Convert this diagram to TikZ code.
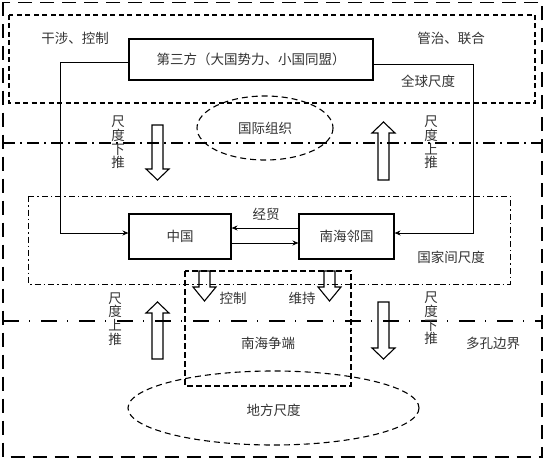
\documentclass[tikz,border=0pt]{standalone}
\usepackage{fontspec}
\newfontfamily\cjk{Noto Sans CJK SC}
\usetikzlibrary{arrows.meta,calc}
\begin{document}
\begin{tikzpicture}[x=1pt,y=-1pt,
  txt/.style={font=\cjk\fontsize{13.5}{13.7}\selectfont, text=black!80, inner sep=0pt, align=center},
  box/.style={draw, line width=1.1pt, inner sep=0pt, font=\cjk\fontsize{13.5}{14}\selectfont, text=black!80},
  conn/.style={line width=0.9pt, -{Stealth[length=6pt,width=5pt]}},
  harr/.style={draw, line width=1.1pt, line join=miter},
  outerframe/.style={line width=1.2pt, dash pattern=on 14pt off 8pt},
  globalframe/.style={line width=1.1pt, dash pattern=on 5pt off 3.5pt},
  scaleline/.style={line width=1.1pt, dash pattern=on 12pt off 5pt on 2pt off 5pt},
  interframe/.style={line width=1pt, dash pattern=on 6pt off 3pt on 1.5pt off 3pt},
  disputeframe/.style={line width=1.1pt, dash pattern=on 6pt off 3pt},
  porousline/.style={line width=1.1pt, dash pattern=on 16pt off 10pt on 1pt off 11pt},
  ovaldash/.style={line width=1.1pt, dash pattern=on 6pt off 4pt}]
\useasboundingbox (0,0) rectangle (546,460);
\newcommand\hollowarr[4]{%
  \draw[harr] (#1-5.5,#2) -- (#1-5.5,#3) -- (#1-11.5,#3) -- (#1,#4) -- (#1+11.5,#3) -- (#1+5.5,#3) -- (#1+5.5,#2) -- cycle;}

% frames and scale lines
\draw[outerframe] (3,2.5) rectangle (542,457);
\draw[globalframe] (9,15) rectangle (535,103);
\draw[scaleline] (3,143) -- (542,143);
\draw[interframe] (28,196) rectangle (510,284);
\draw[disputeframe] (185,271) rectangle (351,386);
\draw[porousline] (3,321) -- (542,321);

% ellipses
\draw[ovaldash] (265,128) ellipse [x radius=68, y radius=32];
\draw[ovaldash] (273.5,408) ellipse [x radius=145.5, y radius=37];

% boxes
\node[box, minimum width=244pt, minimum height=41pt] (tp) at (251,59.5) {第三方（大国势力、小国同盟）};
\node[box, minimum width=102pt, minimum height=45pt] (cn) at (180,236.5) {中国};
\node[box, minimum width=95pt, minimum height=45pt] (nb) at (346.5,236.5) {南海邻国};

% connectors
\coordinate (lt) at (60,62);
\coordinate (lb) at (60,233);
\coordinate (rt) at (473,64);
\coordinate (rb) at (473,233);
\draw[conn] (tp.west |- lt) -- (lt) -- (lb) -- (cn.west |- lb);
\draw[conn] (tp.east |- rt) -- (rt) -- (rb) -- (nb.east |- rb);
\draw[conn] ($(nb.west)+(0,-8.5)$) -- ($(cn.east)+(0,-8.5)$);
\draw[conn] ($(cn.east)+(0,6.5)$) -- ($(nb.west)+(0,6.5)$);

% hollow arrows
\hollowarr{157.5}{125}{169}{180}
\hollowarr{383.5}{180}{133}{122}
\hollowarr{204.5}{271}{287}{301}
\hollowarr{329.5}{271}{287}{301}
\hollowarr{157.5}{359}{313}{302}
\hollowarr{383.5}{302}{348}{359}

% labels
\node[txt] (l1) at (75,38) {干涉、控制};
\node[txt] (l2) at (451,38) {管治、联合};
\node[txt] (l3) at (428,81) {全球尺度};
\node[txt] (l4) at (265,128) {国际组织};
\node[txt] (l5) at (266,214) {经贸};
\node[txt] (l6) at (451,257) {国家间尺度};
\node[txt] (l7) at (233,298) {控制};
\node[txt] (l8) at (302,298) {维持};
\node[txt] (l9) at (268,343) {南海争端};
\node[txt] (l10) at (493,343) {多孔边界};
\node[txt] (l11) at (273.5,410) {地方尺度};
\node[txt] (v1) at (118,142.5) {尺\\度\\下\\推};
\node[txt] (v2) at (431,142.5) {尺\\度\\上\\推};
\node[txt] (v3) at (115,319) {尺\\度\\上\\推};
\node[txt] (v4) at (431,318.5) {尺\\度\\下\\推};
\end{tikzpicture}
\end{document}
